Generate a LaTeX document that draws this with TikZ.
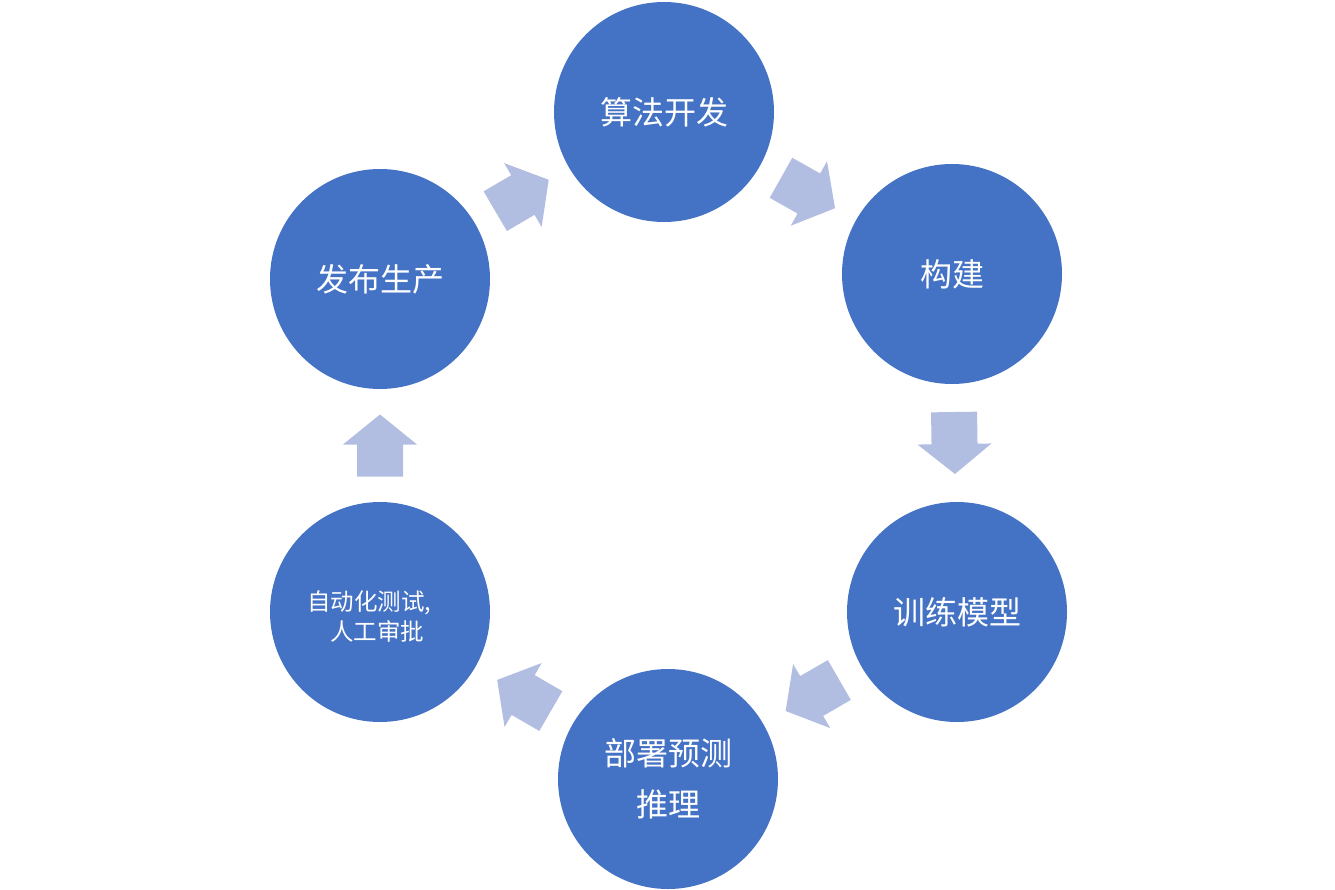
\documentclass[tikz,border=0pt]{standalone}
\usepackage{fontspec}
\newfontfamily\cjk{Noto Sans CJK SC}
\usetikzlibrary{calc}
\definecolor{circblue}{RGB}{68,114,196}
\definecolor{arrblue}{RGB}{178,190,225}
\begin{document}
\begin{tikzpicture}[x=1pt,y=-1pt,
  stage/.style={circle,fill=circblue,draw=none,minimum size=220pt,inner sep=0pt,
    text=white,font=\cjk\fontsize{32}{51}\selectfont,align=center},
  blockarrow/.pic={\fill[arrblue] (-31,-23) -- (1,-23) -- (1,-37) -- (31,0) -- (1,37) -- (1,23) -- (-31,23) -- cycle;}
]
\useasboundingbox (0,0) rectangle (1335,889);
\node[stage] (alg) at (664,112) {算法开发};
\node[stage] (build) at (952,274) {构建};
\node[stage] (train) at (957,612) {训练模型};
\node[stage] (deploy) at (668,779) {部署预测\\推理};
\node[stage] (test) at (380,612) {};
\node[font=\cjk\fontsize{23.5}{30}\selectfont,text=white,align=left,anchor=west,inner sep=0pt] (testlabel) at (307,617) {自动化测试,\\\hspace{23pt}人工审批};
\node[stage] (release) at (380,279) {发布生产};
\foreach \a/\b in {release/alg,alg/build,build/train,train/deploy,deploy/test,test/release}{
  \path let \p1=(\a.center), \p2=(\b.center), \n1={atan2(\y2-\y1,\x2-\x1)} in
    pic[rotate=\n1] at ($(\a.center)!0.5!(\b.center)$) {blockarrow};
}
\end{tikzpicture}
\end{document}
